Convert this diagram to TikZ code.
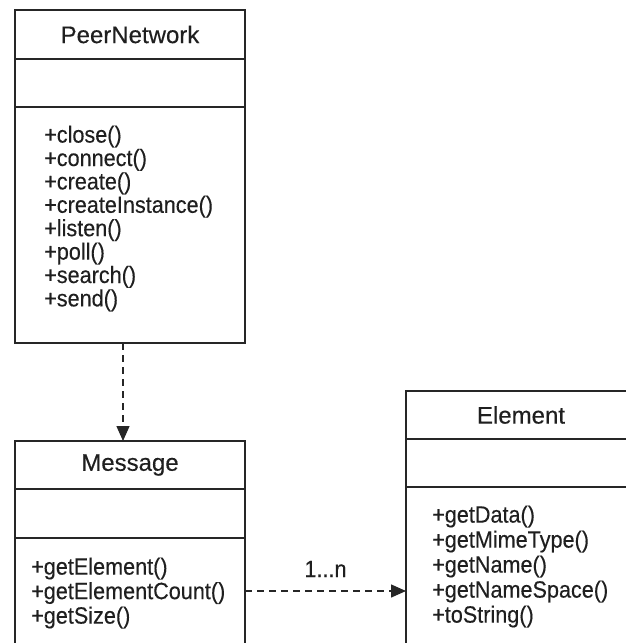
\documentclass[tikz,border=0pt]{standalone}
\usepackage{fontspec}
\setmainfont{Liberation Sans}
\newfontfamily\memberfont[FakeStretch=0.92, FakeBold=0.3]{Liberation Sans}
\newfontfamily\titlefont[FakeBold=0.3]{Liberation Sans}
\usetikzlibrary{arrows.meta}
\begin{document}
\begin{tikzpicture}[x=1pt,y=-1pt,
  compartment/.style={draw=black!85, line width=1.5pt, anchor=north west,
    inner sep=0pt, outer sep=0pt, minimum width=230pt},
  classname/.style={font=\titlefont\fontsize{24}{28}\selectfont, text=black!88},
  member/.style={font=\memberfont\fontsize{23.5}{24}\selectfont, text=black!88,
    anchor=base west, inner sep=0pt},
  dep/.style={draw=black!85, line width=1.4pt, dash pattern=on 7pt off 5pt,
    -{Triangle[length=15pt,width=13pt]}}]
\useasboundingbox (0,0) rectangle (626,643);
\clip (0,0) rectangle (626,643);

% PeerNetwork class
\node[compartment, classname, minimum height=49pt] (pnName) at (15,10) {PeerNetwork};
\node[compartment, minimum height=48pt] (pnAttr) at (15,59) {};
\node[compartment, minimum height=236pt] (pnOps) at (15,107) {};
\foreach \m [count=\i] in {close,connect,create,createInstance,listen,poll,search,send}
  \node[member] (pnOp\i) at (44,{142.6+23.4*(\i-1)}) {+\m()};

% Message class
\node[compartment, classname, minimum height=48pt] (msgName) at (15,441) {Message};
\node[compartment, minimum height=49pt] (msgAttr) at (15,489) {};
\node[compartment, minimum height=130pt] (msgOps) at (15,538) {};
\foreach \m [count=\i] in {getElement,getElementCount,getSize}
  \node[member] (msgOp\i) at (31,{574.6+24.5*(\i-1)}) {+\m()};

% Element class
\node[compartment, classname, minimum height=48pt] (elName) at (406,391) {Element};
\node[compartment, minimum height=48pt] (elAttr) at (406,439) {};
\node[compartment, minimum height=180pt] (elOps) at (406,487) {};
\foreach \m [count=\i] in {getData,getMimeType,getName,getNameSpace,toString}
  \node[member] (elOp\i) at (432,{522.6+25*(\i-1)}) {+\m()};

% dependencies
\coordinate (depX) at (123,0);
\coordinate (depY) at (0,591);
\draw[dep] (pnOps.south -| depX) -- (msgName.north -| depX);
\draw[dep] (msgOps.east |- depY) -- (elOps.west |- depY);
\node[member, anchor=base] (mult) at (325.5,577) {1...n};
\end{tikzpicture}
\end{document}
